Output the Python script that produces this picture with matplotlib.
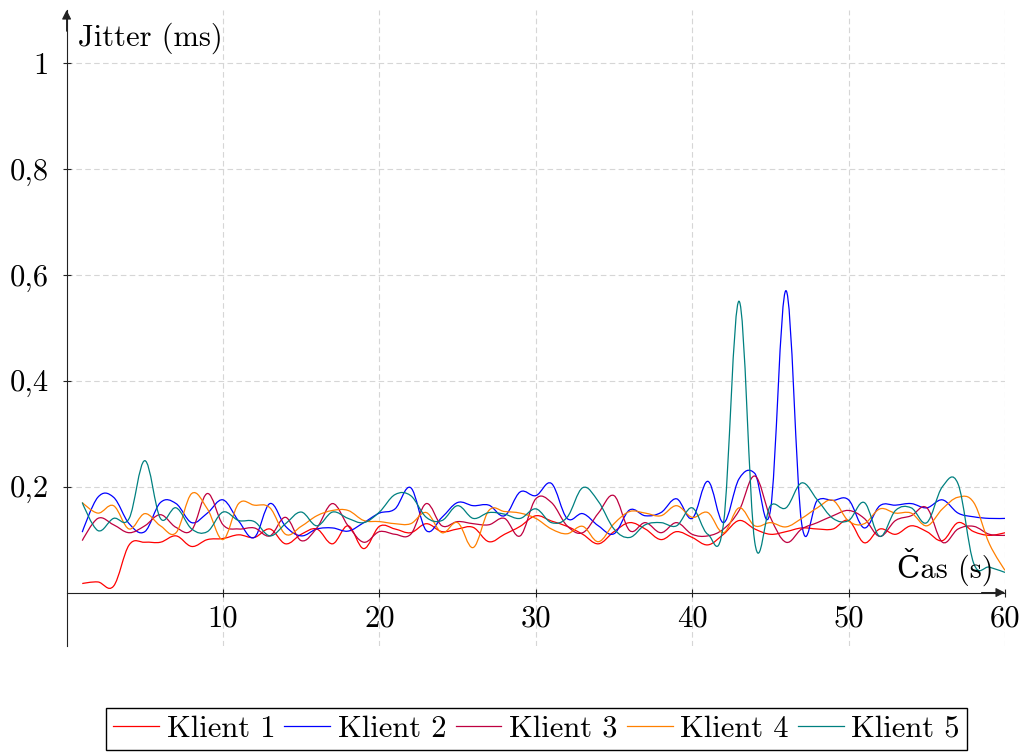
import numpy as np
import matplotlib
matplotlib.use("Agg")
from matplotlib import pyplot as plt
from matplotlib.path import Path
from matplotlib.patches import PathPatch
from matplotlib.lines import Line2D

plt.rcParams['font.family'] = ['cmr10', 'DejaVu Serif']
plt.rcParams['mathtext.fontset'] = 'cm'
plt.rcParams['axes.formatter.use_mathtext'] = True
plt.rcParams['font.size'] = 22

# time in seconds
cas = list(range(1, 61))

klient1 = [0.017, 0.02, 0.012, 0.09, 0.095, 0.095, 0.107, 0.087, 0.1, 0.102,
           0.109, 0.104, 0.12, 0.092, 0.11, 0.12, 0.092, 0.126, 0.083, 0.125,
           0.12, 0.113, 0.13, 0.115, 0.12, 0.123, 0.096, 0.11, 0.125, 0.145,
           0.135, 0.125, 0.11, 0.092, 0.115, 0.132, 0.12, 0.1, 0.115, 0.104,
           0.09, 0.11, 0.136, 0.12, 0.11, 0.115, 0.122, 0.12, 0.12, 0.136,
           0.094, 0.12, 0.11, 0.126, 0.115, 0.098, 0.132, 0.115, 0.108, 0.113]

klient2 = [0.114, 0.18, 0.18, 0.13, 0.115, 0.17, 0.168, 0.132, 0.15, 0.175,
           0.135, 0.104, 0.168, 0.125, 0.107, 0.12, 0.122, 0.116, 0.132, 0.15,
           0.158, 0.198, 0.117, 0.142, 0.17, 0.164, 0.165, 0.145, 0.19, 0.183,
           0.206, 0.14, 0.149, 0.126, 0.111, 0.156, 0.145, 0.151, 0.177, 0.14,
           0.21, 0.132, 0.215, 0.225, 0.155, 0.57, 0.13, 0.174, 0.174, 0.175,
           0.122, 0.164, 0.165, 0.168, 0.16, 0.175, 0.15, 0.143, 0.14, 0.14]

klient3 = [0.098, 0.14, 0.128, 0.113, 0.126, 0.147, 0.123, 0.118, 0.187, 0.128,
           0.12, 0.122, 0.107, 0.142, 0.098, 0.122, 0.168, 0.126, 0.095, 0.115,
           0.11, 0.11, 0.168, 0.126, 0.134, 0.13, 0.128, 0.14, 0.107, 0.177,
           0.17, 0.126, 0.113, 0.15, 0.183, 0.117, 0.132, 0.113, 0.132, 0.11,
           0.107, 0.12, 0.155, 0.22, 0.142, 0.095, 0.12, 0.132, 0.145, 0.155,
           0.14, 0.106, 0.136, 0.145, 0.16, 0.095, 0.12, 0.125, 0.11, 0.108]

klient4 = [0.17, 0.15, 0.164, 0.12, 0.149, 0.126, 0.113, 0.187, 0.158, 0.1,
           0.168, 0.165, 0.16, 0.11, 0.125, 0.145, 0.155, 0.155, 0.136, 0.134,
           0.13, 0.13, 0.151, 0.113, 0.132, 0.085, 0.155, 0.153, 0.15, 0.14,
           0.12, 0.111, 0.125, 0.096, 0.13, 0.153, 0.15, 0.145, 0.164, 0.142,
           0.151, 0.113, 0.16, 0.126, 0.132, 0.124, 0.14, 0.16, 0.174, 0.135,
           0.13, 0.158, 0.15, 0.15, 0.126, 0.158, 0.18, 0.17, 0.092, 0.042]

klient5 = [0.17, 0.117, 0.14, 0.14, 0.249, 0.14, 0.16, 0.12, 0.115, 0.152,
           0.136, 0.134, 0.107, 0.13, 0.152, 0.126, 0.152, 0.14, 0.132, 0.152,
           0.185, 0.183, 0.142, 0.136, 0.164, 0.14, 0.151, 0.148, 0.14, 0.158,
           0.132, 0.142, 0.198, 0.172, 0.12, 0.104, 0.128, 0.132, 0.126, 0.16,
           0.11, 0.13, 0.55, 0.095, 0.164, 0.16, 0.207, 0.175, 0.14, 0.136,
           0.17, 0.106, 0.155, 0.16, 0.132, 0.2, 0.205, 0.055, 0.048, 0.038]

nazvy = ['Klient 1', 'Klient 2', 'Klient 3', 'Klient 4', 'Klient 5']
barvy = ['#ff0000', '#0000ff', '#bf0040', '#ff8000', '#008080']

xticks = [10, 20, 30, 40, 50, 60]
yticks = [0.2, 0.4, 0.6, 0.8, 1.0]
ytick_labels = ['0,2', '0,4', '0,6', '0,8', '1']


def smooth_path(x, y, k=0.18):
    # bezier path through the points, like tikz "smooth"
    p = np.column_stack([x, y]).astype(float)
    verts = [p[0]]
    codes = [Path.MOVETO]
    n = len(p)
    for i in range(n - 1):
        prev = p[i - 1] if i > 0 else p[i]
        nxt2 = p[i + 2] if i + 2 < n else p[i + 1]
        c1 = p[i] + k * (p[i + 1] - prev) if i > 0 else p[i]
        c2 = p[i + 1] - k * (nxt2 - p[i]) if i + 2 < n else p[i + 1]
        verts += [c1, c2, p[i + 1]]
        codes += [Path.CURVE4] * 3
    return Path(verts, codes)


fig = plt.figure(figsize=(10.24, 7.53), dpi=100)
ax = fig.add_axes([0.06504, 0.14276, 0.91641, 0.84396])
ax.set_xlim(0, 60)
ax.set_ylim(-0.1, 1.1)

for serie, barva in zip([klient1, klient2, klient3, klient4, klient5], barvy):
    ax.add_patch(PathPatch(smooth_path(cas, serie), facecolor='none',
                           edgecolor=barva, lw=0.9, zorder=3))

ax.spines['top'].set_visible(False)
ax.spines['right'].set_visible(False)
ax.spines['left'].set_position(('data', 0))
ax.spines['bottom'].set_position(('data', 0))
for s in ['left', 'bottom']:
    ax.spines[s].set_linewidth(0.8)
    ax.spines[s].set_color('#222222')

ax.annotate('', xy=(0, 1.1), xytext=(0, 1.06),
            arrowprops=dict(arrowstyle='-|>', color='#222222', lw=0.8,
                            mutation_scale=14, shrinkA=0, shrinkB=0))
ax.annotate('', xy=(60, 0), xytext=(58.5, 0),
            arrowprops=dict(arrowstyle='-|>', color='#222222', lw=0.8,
                            mutation_scale=14, shrinkA=0, shrinkB=0))

ax.set_xticks(xticks)
ax.set_xticklabels([str(t) for t in xticks])
ax.set_yticks(yticks)
ax.set_yticklabels(ytick_labels)
ax.tick_params(direction='inout', length=6, width=0.8, color='#222222')
ax.tick_params(axis='x', pad=6)
ax.tick_params(axis='y', pad=10)

ax.grid(True, color='#d6d6d6', lw=0.8, linestyle=(0, (5, 3)))
ax.set_axisbelow(True)

ax.text(0.75, 1.032, 'Jitter (ms)', ha='left', va='baseline')
ax.text(59.3, 0.028, 'Čas (s)', ha='right', va='baseline')

handles = [Line2D([0], [0], color=b, lw=0.9) for b in barvy]
fig.legend(handles, nazvy, loc='center', bbox_to_anchor=(0.524, 0.032),
           ncol=5, frameon=True, fancybox=False, edgecolor='black',
           framealpha=1, handlelength=1.5, handletextpad=0.25,
           columnspacing=0.3, borderpad=0.25, borderaxespad=0)

fig.savefig('out.png', dpi=100)
